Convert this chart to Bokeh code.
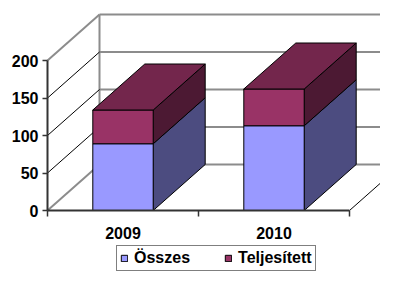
from bokeh.plotting import figure
from bokeh.models import Range1d, LinearAxis, FixedTicker, Legend, LegendItem, ColumnDataSource
from bokeh.embed import file_html
from bokeh.resources import INLINE

# ---- data ----
categories = ["2009", "2010"]
osszes = [89, 113]
teljesitett = [45, 49]
series_names = ["Összes", "Teljesített"]
y_ticks = [0, 50, 100, 150, 200]

# ---- geometry / style ----
W, H = 380, 272
X_PX = 151.0          # px per category
Y_PX = 0.75           # px per value unit
ORIGIN = (47, 210)    # frame px of data origin (from left, from top)
DEPTH_PX = (52, 46)
BAR_W = 0.4

x_start = -ORIGIN[0] / X_PX
x_end = (W - ORIGIN[0]) / X_PX
y_start = -(H - ORIGIN[1]) / Y_PX
y_end = ORIGIN[1] / Y_PX
DX = DEPTH_PX[0] / X_PX
DY = DEPTH_PX[1] / Y_PX

n = len(categories)
ymax = y_ticks[-1]

FONT = "Liberation Sans"
GREY = "#8c8c8c"

p = figure(width=W, height=H, output_backend="svg", toolbar_location=None,
           x_range=Range1d(x_start, x_end), y_range=Range1d(y_start, y_end),
           x_axis_type=None, y_axis_type=None, min_border=0,
           outline_line_color=None, background_fill_color="white",
           border_fill_color="white")

# ---- walls & floor ----
p.patch([DX, n + DX, n + DX, DX], [DY, DY, ymax + DY, ymax + DY], fill_color="white", line_color=None)
p.patch([0, DX, DX, 0], [0, DY, ymax + DY, ymax], fill_color="white", line_color=None)
p.patch([0, n, n + DX, DX], [0, 0, DY, DY], fill_color="white", line_color=None)

# back wall gridlines + left edge
p.multi_line([[DX, n + DX] for v in y_ticks], [[v + DY, v + DY] for v in y_ticks],
             line_color=GREY, line_width=2)
p.line([DX, DX], [DY, ymax + DY], line_color=GREY, line_width=2)
# side wall lines
mid = y_ticks[1:-1]
p.multi_line([[0, DX] for v in mid], [[v, v + DY] for v in mid], line_color="black", line_width=1)
ends = [y_ticks[0], y_ticks[-1]]
p.multi_line([[0, DX] for v in ends], [[v, v + DY] for v in ends], line_color=GREY, line_width=2)
# floor right edge
p.line([n, n + DX], [0, DY], line_color="black", line_width=1)

# ---- bars ----
front_cols = ["#9999FF", "#993366"]
side_cols = ["#4C4C80", "#4C1933"]
top_col = "#73264C"

lefts = [i + 0.5 - BAR_W / 2 for i in range(n)]
rights = [i + 0.5 + BAR_W / 2 for i in range(n)]
bottoms = [[0] * n, list(osszes)]
tops = [list(osszes), [a + b for a, b in zip(osszes, teljesitett)]]

front_renderers = []
for s in range(2):
    side_xs = [[rights[i], rights[i] + DX, rights[i] + DX, rights[i]] for i in range(n)]
    side_ys = [[bottoms[s][i], bottoms[s][i] + DY, tops[s][i] + DY, tops[s][i]] for i in range(n)]
    p.patches(side_xs, side_ys, fill_color=side_cols[s], line_color="black", line_width=1)
    src = ColumnDataSource(dict(left=lefts, right=rights, bottom=bottoms[s], top=tops[s]))
    r = p.quad(left="left", right="right", bottom="bottom", top="top", source=src,
               fill_color=front_cols[s], line_color="black", line_width=1)
    front_renderers.append(r)

top_xs = [[lefts[i], rights[i], rights[i] + DX, lefts[i] + DX] for i in range(n)]
top_ys = [[tops[1][i], tops[1][i], tops[1][i] + DY, tops[1][i] + DY] for i in range(n)]
p.patches(top_xs, top_ys, fill_color=top_col, line_color="black", line_width=1)

# ---- axes ----
yaxis = LinearAxis(fixed_location=0, ticker=FixedTicker(ticks=y_ticks), bounds=(0, ymax),
                   major_tick_out=5, major_tick_in=0, minor_tick_out=0, minor_tick_in=0,
                   axis_line_color="#333333", axis_line_width=2,
                   major_tick_line_color="#333333", major_tick_line_width=1.5,
                   major_label_text_font=FONT, major_label_text_font_style="bold",
                   major_label_text_font_size="16px", major_label_text_color="black",
                   major_label_standoff=4)
p.add_layout(yaxis, "left")

centers = [i + 0.5 for i in range(n)]
xaxis = LinearAxis(fixed_location=0,
                   ticker=FixedTicker(ticks=centers, minor_ticks=list(range(n + 1))),
                   major_label_overrides={c: lab for c, lab in zip(centers, categories)},
                   bounds=(0, n),
                   major_tick_out=0, major_tick_in=0, minor_tick_out=6, minor_tick_in=0,
                   axis_line_color="#333333", axis_line_width=2,
                   minor_tick_line_color="#333333", minor_tick_line_width=1.5,
                   major_label_text_font=FONT, major_label_text_font_style="bold",
                   major_label_text_font_size="16px", major_label_text_color="black",
                   major_label_standoff=10)
p.add_layout(xaxis, "below")

# ---- legend ----
legend = Legend(items=[LegendItem(label=series_names[s], renderers=[front_renderers[s]]) for s in range(2)],
                orientation="horizontal", location=(116, 1), margin=0,
                padding=3, spacing=34, glyph_width=8, glyph_height=8, label_standoff=6,
                label_height=14, label_text_font=FONT, label_text_font_style="bold",
                label_text_font_size="16px", label_text_color="black",
                border_line_color="black", border_line_width=1,
                background_fill_color="white", background_fill_alpha=1)
p.add_layout(legend)

open("out.html", "w").write(file_html(p, INLINE))
